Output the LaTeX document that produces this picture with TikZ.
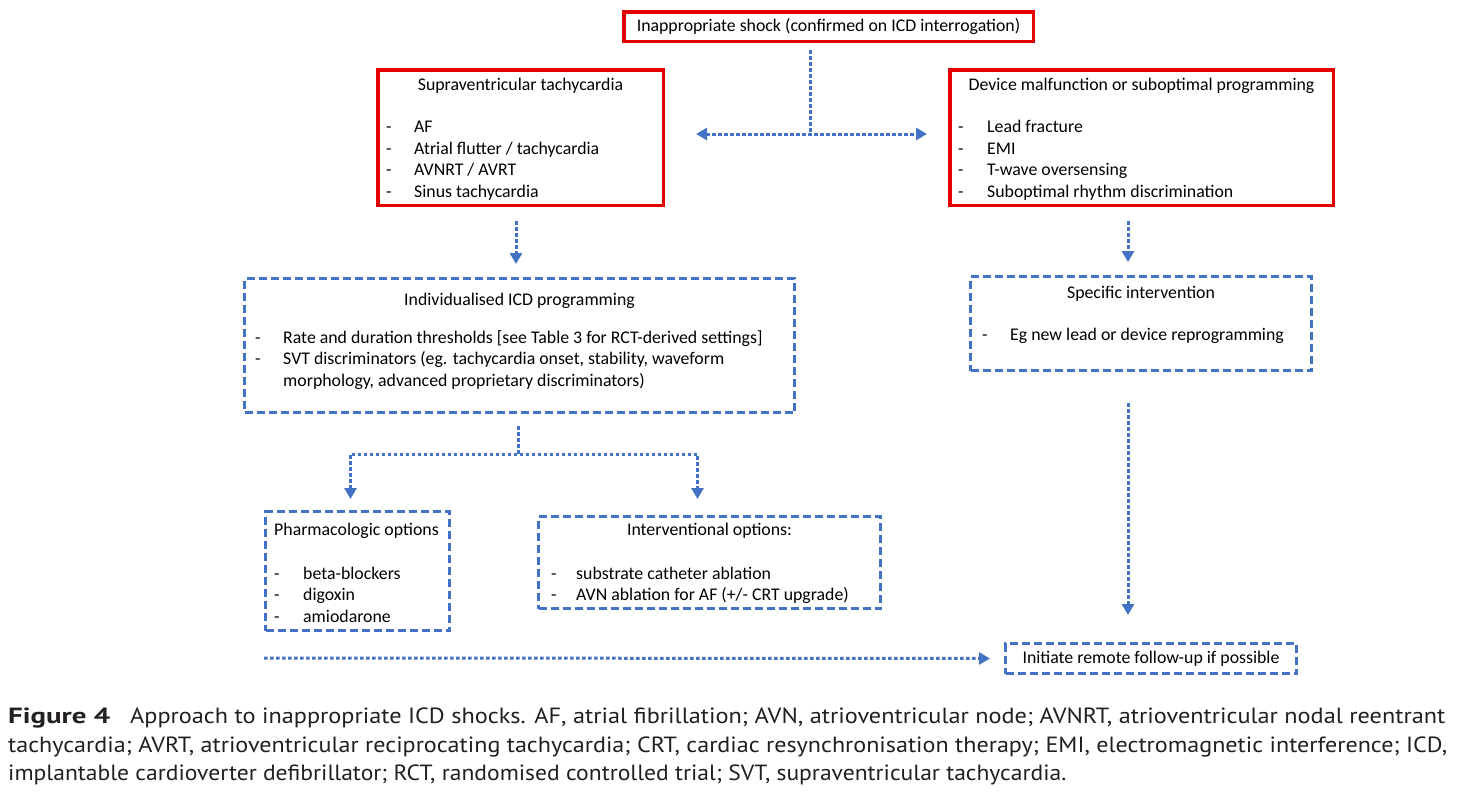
\documentclass[tikz,border=0pt]{standalone}
\usepackage{fontspec}
\usepackage{graphicx}
\setmainfont{Carlito}
\newfontfamily\capfont{PT Sans}
\usetikzlibrary{arrows.meta}
\definecolor{boxred}{RGB}{226,0,0}
\definecolor{boxblue}{RGB}{68,114,196}
\definecolor{captext}{RGB}{35,31,32}
\newcommand{\bdash}{\makebox[28pt][l]{-}}
\begin{document}
\begin{tikzpicture}[x=1pt,y=-1pt,
  redbox/.style={draw=boxred,line width=3.5pt,inner sep=0pt,font=\fontsize{17.8}{21.5}\selectfont},
  bluebox/.style={draw=boxblue,line width=3pt,dash pattern=on 8pt off 4pt,inner sep=0pt,font=\fontsize{17.8}{21.5}\selectfont},
  dotline/.style={draw=boxblue,line width=3pt,dash pattern=on 3.5pt off 2.5pt},
  arr/.style={-{Triangle[length=11pt,width=12pt]}},
  darr/.style={{Triangle[length=11pt,width=12pt]}-{Triangle[length=11pt,width=12pt]}},
  boxtxt/.style={inner sep=0pt,font=\fontsize{17.8}{21.5}\selectfont,text=black},
  captxt/.style={inner sep=0pt,font=\capfont\fontsize{22}{29}\selectfont,text=captext,anchor=base west},
]
\useasboundingbox (0,0) rectangle (1477,811);
\fill[white] (0,0) rectangle (1477,811);

% top box
\node[redbox, minimum width=409.5pt, minimum height=29.5pt] (top) at (828.5,26.5) {Inappropriate shock (confirmed on ICD interrogation)};

% SVT box
\node[redbox, minimum width=285.5pt, minimum height=135.5pt] (svt) at (520.5,137.5) {};
\node[boxtxt, anchor=base] (svtT) at (520.5,90.5) {Supraventricular tachycardia};
\node[boxtxt, anchor=base west] (svtL) at (386,132.5) {\begin{tabular}[t]{@{}l@{}l@{}}
\bdash&AF\\
\bdash&Atrial flutter / tachycardia\\
\bdash&AVNRT / AVRT\\
\bdash&Sinus tachycardia
\end{tabular}};

% device box
\node[redbox, minimum width=383.5pt, minimum height=135.5pt] (dev) at (1141.5,137.5) {};
\node[boxtxt, anchor=base] (devT) at (1141.5,90.5) {Device malfunction or suboptimal programming};
\node[boxtxt, anchor=base west] (devL) at (958,132.5) {\begin{tabular}[t]{@{}l@{}l@{}}
\makebox[29pt][l]{-}&Lead fracture\\
\makebox[29pt][l]{-}&EMI\\
\makebox[29pt][l]{-}&T-wave oversensing\\
\makebox[29pt][l]{-}&Suboptimal rhythm discrimination
\end{tabular}};

% ICD programming box
\node[bluebox, minimum width=550pt, minimum height=134pt] (icd) at (519.5,345.5) {};
\node[boxtxt, anchor=base] (icdT) at (519.5,305) {Individualised ICD programming};
\node[boxtxt, anchor=base west] (icdL) at (255,343) {\begin{tabular}[t]{@{}l@{}l@{}}
\bdash&Rate and duration thresholds [see Table 3 for RCT-derived settings]\\
\bdash&SVT discriminators (eg. tachycardia onset, stability, waveform\\
&morphology, advanced proprietary discriminators)
\end{tabular}};

% specific intervention box
\node[bluebox, minimum width=341pt, minimum height=94pt] (spec) at (1141,323.5) {};
\node[boxtxt, anchor=base] (specT) at (1141,298) {Specific intervention};
\node[boxtxt, anchor=base west] (specL) at (982,340.5) {\makebox[28pt][l]{-}Eg new lead or device reprogramming};

% pharmacologic box
\node[bluebox, minimum width=184pt, minimum height=119pt] (pharm) at (357.5,571) {};
\node[boxtxt, anchor=base west] (pharmT) at (274,535.5) {Pharmacologic options};
\node[boxtxt, anchor=base west] (pharmL) at (274,579) {\begin{tabular}[t]{@{}l@{}l@{}}
\makebox[29pt][l]{-}&beta-blockers\\
\makebox[29pt][l]{-}&digoxin\\
\makebox[29pt][l]{-}&amiodarone
\end{tabular}};

% interventional box
\node[bluebox, minimum width=342pt, minimum height=92pt] (interv) at (709.5,562.5) {};
\node[boxtxt, anchor=base] (intervT) at (709.5,535.5) {Interventional options:};
\node[boxtxt, anchor=base west] (intervL) at (551,579) {\begin{tabular}[t]{@{}l@{}l@{}}
\makebox[25pt][l]{-}&substrate catheter ablation\\
\makebox[25pt][l]{-}&AVN ablation for AF (+/- CRT upgrade)
\end{tabular}};

% remote follow-up box
\node[bluebox, minimum width=291pt, minimum height=30pt] (remote) at (1151,658.5) {Initiate remote follow-up if possible};

% connectors
\coordinate (jT) at (810,134);
\coordinate (cL) at (516,0);
\coordinate (cR) at (1128,0);
\coordinate (br) at (518,454);
\coordinate (bl) at (350.5,454);
\coordinate (brr) at (697.5,454);
\coordinate (s0) at (264,658);

\draw[dotline, shorten <=7pt] (top.south -| jT) -- (jT);
\draw[dotline, darr, shorten <=31pt, shorten >=21pt] (svt.east |- jT) -- (dev.west |- jT);
\draw[dotline, arr, shorten <=14pt, shorten >=13pt] (svt.south -| cL) -- (icd.north -| cL);
\draw[dotline, arr, shorten <=14pt, shorten >=13pt] (dev.south -| cR) -- (spec.north -| cR);
\draw[dotline, shorten <=12pt] (icd.south -| br) -- (br);
\draw[dotline, darr, shorten <=11pt, shorten >=16pt] (pharm.north -| bl) -- (bl) -- (brr) -- (interv.north -| brr);
\draw[dotline, arr, shorten <=31pt, shorten >=27pt] (spec.south -| cR) -- (remote.north -| cR);
\draw[dotline, arr, shorten >=14pt] (s0) -- (remote.west);

% caption
\node[captxt] (fig) at (8,723) {\resizebox{102pt}{\height}{\bfseries Figure 4}};
\node[captxt] (cap1) at (130,723) {\resizebox{1315pt}{\height}{Approach to inappropriate ICD shocks. AF, atrial fibrillation; AVN, atrioventricular node; AVNRT, atrioventricular nodal reentrant}};
\node[captxt] (cap2) at (8,752) {\resizebox{1439pt}{\height}{tachycardia; AVRT, atrioventricular reciprocating tachycardia; CRT, cardiac resynchronisation therapy; EMI, electromagnetic interference; ICD,}};
\node[captxt] (cap3) at (8,780) {\resizebox{1058pt}{\height}{implantable cardioverter defibrillator; RCT, randomised controlled trial; SVT, supraventricular tachycardia.}};
\end{tikzpicture}
\end{document}
